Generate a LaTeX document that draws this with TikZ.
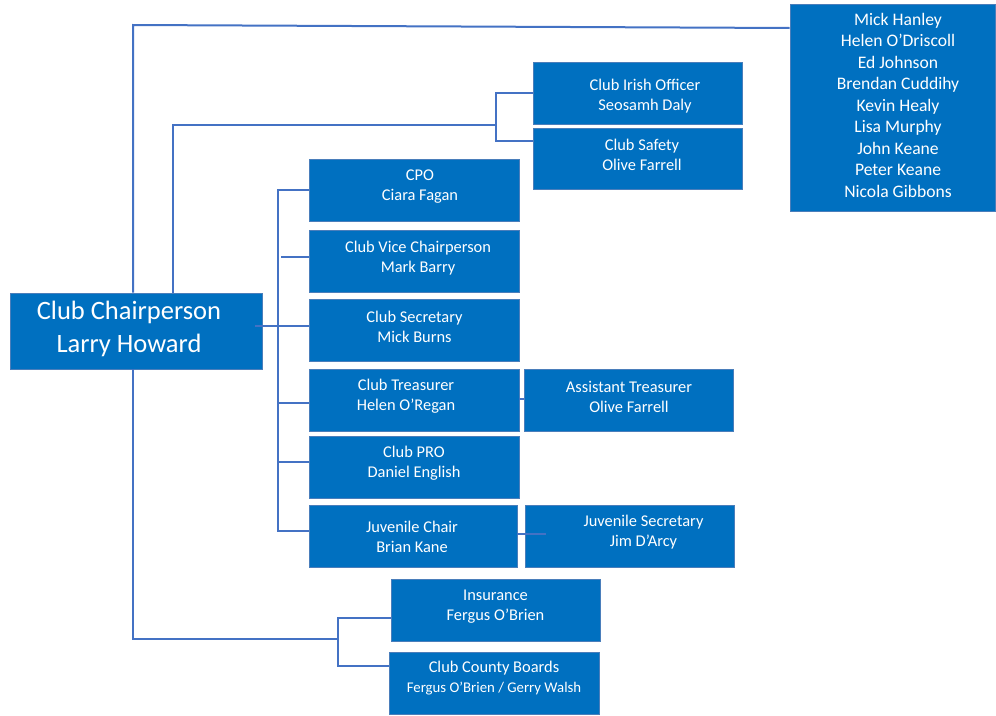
\documentclass[tikz,border=0pt]{standalone}
\usepackage{fontspec}
\setmainfont{Carlito}
\definecolor{boxfill}{HTML}{0070C0}
\definecolor{boxline}{HTML}{4A7EBB}
\definecolor{connc}{HTML}{4472C4}
\begin{document}
\begin{tikzpicture}[x=1pt,y=-1pt,
  box/.style={draw=boxline, line width=0.8pt, fill=boxfill, inner sep=0pt},
  stdbox/.style={box, minimum width=210pt, minimum height=62pt},
  txt/.style={text=white, align=center, inner sep=0pt, yshift=-2pt, font=\fontsize{16.4}{20}\selectfont},
  conn/.style={draw=connc, line width=2pt}]
\useasboundingbox (0,0) rectangle (996,715);

% boxes
\node[box, minimum width=252pt, minimum height=76pt] (chair) at (136,331) {};
\node[box, minimum width=205pt, minimum height=207pt] (comm) at (892.5,107.5) {};
\node[stdbox, minimum width=209pt] (irish) at (637.5,93) {};
\node[stdbox, minimum width=209pt, minimum height=61pt] (safety) at (637.5,158.5) {};
\node[stdbox] (cpo) at (414,190) {};
\node[stdbox] (vice) at (414,261) {};
\node[stdbox] (sec) at (414,330) {};
\node[stdbox] (treas) at (414,400) {};
\node[stdbox, minimum width=209pt] (asst) at (628.5,400) {};
\node[stdbox] (pro) at (414,467) {};
\node[stdbox, minimum width=208pt] (juv) at (413,536) {};
\node[stdbox, minimum width=209pt] (juvsec) at (629.5,536) {};
\node[stdbox, minimum width=209pt] (ins) at (495.5,610) {};
\node[stdbox] (county) at (494,683) {};

% texts
\node[txt, font=\fontsize{26.5}{33}\selectfont] (chair-t) at (129,326.5) {Club Chairperson\\Larry Howard};
\node[txt, yshift=2pt, font=\fontsize{17.6}{21.5}\selectfont] (comm-t) at (898,105) {Mick Hanley\\Helen O’Driscoll\\Ed Johnson\\Brendan Cuddihy\\Kevin Healy\\Lisa Murphy\\John Keane\\Peter Keane\\Nicola Gibbons};
\node[txt] (irish-t) at (645,94) {Club Irish Officer\\Seosamh Daly};
\node[txt] (safety-t) at (642,153) {Club Safety\\Olive Farrell};
\node[txt] (cpo-t) at (420,185) {CPO\\Ciara Fagan};
\node[txt] (vice-t) at (418,256) {Club Vice Chairperson\\Mark Barry};
\node[txt] (sec-t) at (414.5,325) {Club Secretary\\Mick Burns};
\node[txt] (treas-t) at (406,394) {Club Treasurer\\Helen O’Regan};
\node[txt] (asst-t) at (629,395) {Assistant Treasurer\\Olive Farrell};
\node[txt] (pro-t) at (414,461) {Club PRO\\Daniel English};
\node[txt] (juv-t) at (412,535) {Juvenile Chair\\Brian Kane};
\node[txt] (juvsec-t) at (643.5,530) {Juvenile Secretary\\Jim D’Arcy};
\node[txt] (ins-t) at (495.5,605) {Insurance\\Fergus O’Brien};
\node[txt] (county-t) at (494,676.5) {Club County Boards\\{\fontsize{14.8}{18}\selectfont Fergus O’Brien / Gerry Walsh}};

% coordinates
\coordinate (t1) at (133,25);
\coordinate (t1e) at (790,28);
\coordinate (t2) at (173,125);
\coordinate (b2) at (496,125);
\coordinate (s2) at (496,141);
\coordinate (busT) at (278,190);
\coordinate (busB) at (278,531);
\coordinate (vb) at (281,257);
\coordinate (cb) at (255,326);
\coordinate (tb) at (278,403);
\coordinate (pb) at (278,462);
\coordinate (ta) at (519,399);
\coordinate (ja) at (546,534);
\coordinate (bb) at (133,639);
\coordinate (bv) at (338,639);
\coordinate (bi) at (338,618);
\coordinate (bc) at (338,666);

% connectors
\draw[conn] (chair.north -| t1) -- (t1) -- (comm.west |- t1e);
\draw[conn] (chair.north -| t2) -- (t2) -- (b2);
\draw[conn] (irish.west) -| (s2) -- (safety.west |- s2);
\draw[conn] (cpo.west) -- (busT) -- (busB) -- (juv.west |- busB);
\draw[conn] (vb) -- (vice.west |- vb);
\draw[conn] (cb) -- (sec.west |- cb);
\draw[conn] (tb) -- (treas.west |- tb);
\draw[conn] (pb) -- (pro.west |- pb);
\draw[conn] (treas.east |- ta) -- (asst.west |- ta);
\draw[conn] (juv.east |- ja) -- (ja);
\draw[conn] (chair.south -| bb) -- (bb) -- (bv);
\draw[conn] (ins.west |- bi) -- (bi) -- (bc) -- (county.west |- bc);
\end{tikzpicture}
\end{document}
